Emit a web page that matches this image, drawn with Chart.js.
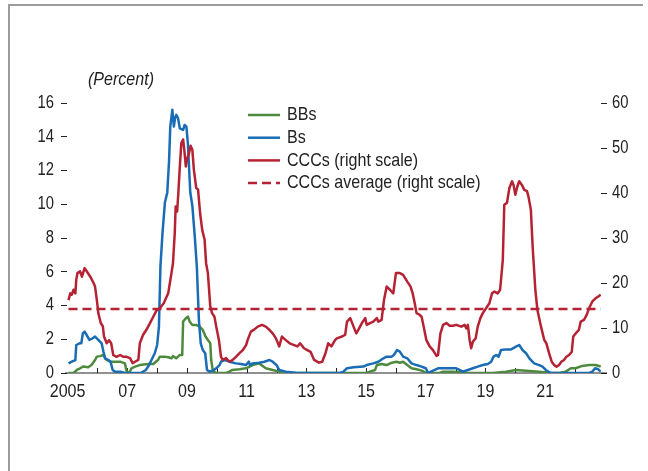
<!DOCTYPE html>
<html>
<head>
<meta charset="utf-8">
<script src="https://cdn.jsdelivr.net/npm/chart.js@4.4.1/dist/chart.umd.min.js"></script>
<style>
  html, body { margin: 0; padding: 0; background: #fff; }
  #wrap { position: relative; width: 648px; height: 471px; overflow: hidden; }
  #frame { position: absolute; left: 8px; top: 4px; right: 5px; bottom: 0; border-top: 2px solid #9c9c9c; border-left: 2px solid #9c9c9c; pointer-events: none; }
</style>
</head>
<body>
<div id="wrap">
  <canvas id="chart-defaults" width="648" height="471"></canvas>
  <div id="frame"></div>
</div>
<script>
// decimal years
const bbDates = [2005.03, 2005.20, 2005.31, 2005.42, 2005.52, 2005.69, 2005.80, 2005.92, 2005.98, 2006.09, 2006.20, 2006.26, 2006.31, 2006.42, 2006.76, 2006.92, 2006.98, 2007.07, 2007.14, 2007.26, 2007.42, 2007.70, 2007.87, 2008.03, 2008.09, 2008.26, 2008.37, 2008.48, 2008.53, 2008.64, 2008.76, 2008.84, 2008.87, 2008.96, 2009.03, 2009.09, 2009.18, 2009.31, 2009.42, 2009.53, 2009.62, 2009.70, 2009.78, 2009.81, 2009.87, 2009.98, 2010.31, 2010.42, 2010.51, 2010.76, 2010.98, 2011.20, 2011.42, 2011.64, 2011.87, 2012.09, 2012.26, 2015.02, 2015.13, 2015.30, 2015.36, 2015.52, 2015.69, 2015.86, 2016.02, 2016.13, 2016.24, 2016.38, 2016.52, 2016.69, 2016.86, 2017.02, 2017.47, 2017.58, 2017.91, 2018.36, 2019.24, 2019.69, 2020.02, 2020.36, 2020.80, 2021.13, 2021.47, 2021.69, 2021.86, 2022.02, 2022.24, 2022.47, 2022.69, 2022.86];
const bbValues = [0, 0, 0.18, 0.28, 0.38, 0.34, 0.47, 0.77, 0.97, 1.0, 1.07, 0.87, 0.77, 0.67, 0.67, 0.57, 0.08, 0.02, 0.28, 0.38, 0.47, 0.53, 0.53, 0.77, 0.97, 0.97, 0.93, 0.87, 1.0, 0.87, 1.07, 1.07, 3.05, 3.24, 3.34, 3.05, 2.85, 2.85, 2.75, 2.55, 2.16, 1.96, 1.76, 0.77, 0.08, 0, 0, 0.08, 0.18, 0.22, 0.28, 0.47, 0.57, 0.28, 0.18, 0.08, 0, 0, 0.08, 0.18, 0.47, 0.53, 0.47, 0.61, 0.67, 0.61, 0.67, 0.47, 0.28, 0.22, 0.14, 0, 0, 0.08, 0.08, 0.02, 0, 0.08, 0.18, 0.14, 0.08, 0.02, 0, 0.08, 0.28, 0.28, 0.42, 0.47, 0.47, 0.38];

const bDates = [2005.03, 2005.14, 2005.26, 2005.29, 2005.40, 2005.46, 2005.51, 2005.57, 2005.64, 2005.73, 2005.84, 2005.92, 2006.03, 2006.14, 2006.20, 2006.26, 2006.37, 2006.44, 2006.51, 2006.59, 2006.76, 2006.92, 2007.31, 2007.48, 2007.62, 2007.70, 2007.81, 2007.92, 2008.00, 2008.06, 2008.11, 2008.18, 2008.26, 2008.34, 2008.40, 2008.44, 2008.51, 2008.56, 2008.60, 2008.64, 2008.70, 2008.76, 2008.87, 2008.92, 2008.98, 2009.03, 2009.11, 2009.18, 2009.26, 2009.33, 2009.40, 2009.46, 2009.53, 2009.61, 2009.67, 2009.76, 2009.87, 2009.98, 2010.09, 2010.14, 2010.26, 2010.42, 2010.64, 2010.81, 2010.98, 2011.07, 2011.11, 2011.20, 2011.42, 2011.59, 2011.76, 2011.87, 2012.00, 2012.09, 2012.31, 2012.64, 2012.98, 2014.13, 2014.24, 2014.36, 2014.58, 2014.91, 2015.02, 2015.24, 2015.41, 2015.58, 2015.69, 2015.86, 2015.93, 2016.04, 2016.13, 2016.24, 2016.38, 2016.52, 2016.69, 2016.86, 2017.00, 2017.08, 2017.17, 2017.30, 2017.41, 2018.02, 2018.13, 2018.24, 2018.41, 2018.58, 2018.74, 2018.91, 2019.08, 2019.19, 2019.27, 2019.36, 2019.44, 2019.52, 2019.69, 2019.86, 2020.02, 2020.13, 2020.24, 2020.36, 2020.47, 2020.63, 2020.80, 2020.91, 2021.02, 2021.19, 2022.47, 2022.58, 2022.67, 2022.78, 2022.86];
const bValues = [0.57, 0.67, 0.77, 1.66, 1.76, 1.76, 2.35, 2.45, 2.25, 1.96, 2.06, 2.16, 1.96, 1.76, 1.27, 0.87, 0.77, 0.67, 0.18, 0.08, 0.08, 0, 0, 0.02, 0.18, 0.38, 0.77, 1.17, 1.66, 2.75, 6.3, 8.3, 10.1, 10.7, 12.6, 14.6, 15.6, 14.6, 15.1, 15.3, 15.1, 14.5, 14.4, 14.7, 14.6, 13.6, 10.7, 9.9, 8.1, 6.3, 3.1, 1.76, 1.36, 1.17, 0.18, 0.08, 0.14, 0.28, 0.47, 0.67, 0.77, 0.67, 0.57, 0.53, 0.47, 0.67, 0.47, 0.57, 0.61, 0.67, 0.77, 0.67, 0.47, 0.18, 0.08, 0.02, 0, 0, 0.08, 0.28, 0.34, 0.38, 0.47, 0.57, 0.67, 0.87, 0.97, 0.97, 1.07, 1.36, 1.27, 0.97, 0.87, 0.57, 0.47, 0.38, 0.28, 0, 0.08, 0.18, 0.28, 0.28, 0.18, 0.08, 0.18, 0.28, 0.38, 0.47, 0.53, 0.67, 0.97, 1.07, 0.97, 1.36, 1.40, 1.40, 1.56, 1.66, 1.36, 1.17, 0.87, 0.57, 0.47, 0.38, 0.18, 0, 0, 0.08, 0.28, 0.22, 0.08];

const cccDates = [2005.03, 2005.09, 2005.14, 2005.20, 2005.26, 2005.29, 2005.33, 2005.42, 2005.48, 2005.57, 2005.64, 2005.76, 2005.87, 2005.92, 2005.98, 2006.03, 2006.11, 2006.18, 2006.22, 2006.31, 2006.39, 2006.46, 2006.53, 2006.64, 2006.76, 2006.87, 2006.98, 2007.09, 2007.18, 2007.26, 2007.37, 2007.42, 2007.53, 2007.64, 2007.76, 2007.87, 2007.98, 2008.09, 2008.22, 2008.37, 2008.48, 2008.53, 2008.59, 2008.62, 2008.67, 2008.71, 2008.76, 2008.81, 2008.87, 2008.92, 2008.96, 2009.00, 2009.07, 2009.12, 2009.18, 2009.23, 2009.31, 2009.37, 2009.44, 2009.51, 2009.59, 2009.64, 2009.70, 2009.78, 2009.84, 2009.92, 2009.98, 2010.07, 2010.14, 2010.20, 2010.31, 2010.42, 2010.53, 2010.64, 2010.76, 2010.87, 2010.98, 2011.03, 2011.14, 2011.26, 2011.37, 2011.51, 2011.64, 2011.76, 2011.87, 2011.98, 2012.09, 2012.18, 2012.31, 2012.44, 2012.59, 2012.70, 2012.79, 2012.92, 2013.03, 2013.14, 2013.26, 2013.42, 2013.53, 2013.64, 2013.73, 2013.84, 2013.96, 2014.02, 2014.19, 2014.30, 2014.36, 2014.47, 2014.58, 2014.67, 2014.74, 2014.86, 2014.97, 2015.02, 2015.13, 2015.24, 2015.36, 2015.41, 2015.52, 2015.60, 2015.69, 2015.80, 2015.91, 2016.00, 2016.13, 2016.24, 2016.38, 2016.49, 2016.56, 2016.63, 2016.69, 2016.78, 2016.86, 2016.93, 2017.02, 2017.13, 2017.24, 2017.36, 2017.41, 2017.49, 2017.58, 2017.69, 2017.80, 2017.91, 2018.02, 2018.19, 2018.30, 2018.36, 2018.41, 2018.47, 2018.52, 2018.58, 2018.67, 2018.74, 2018.83, 2018.91, 2019.02, 2019.13, 2019.22, 2019.30, 2019.41, 2019.49, 2019.58, 2019.63, 2019.72, 2019.80, 2019.89, 2019.94, 2020.00, 2020.07, 2020.13, 2020.22, 2020.30, 2020.39, 2020.44, 2020.52, 2020.58, 2020.67, 2020.74, 2020.86, 2020.97, 2021.04, 2021.13, 2021.22, 2021.30, 2021.38, 2021.47, 2021.54, 2021.63, 2021.71, 2021.80, 2021.89, 2021.94, 2022.02, 2022.13, 2022.19, 2022.30, 2022.39, 2022.47, 2022.58, 2022.69, 2022.78, 2022.86];
const cccValues = [16.2, 17.7, 17.4, 18.5, 17.7, 20.7, 22.2, 22.6, 21.4, 23.3, 22.6, 21.4, 20.0, 19.2, 16.2, 13.3, 11.1, 10.4, 8.1, 6.6, 7.3, 6.6, 4.0, 3.6, 4.0, 3.6, 3.6, 3.3, 2.2, 2.5, 2.9, 6.6, 8.5, 9.6, 11.1, 12.5, 13.9, 14.4, 15.5, 17.7, 22.2, 24.4, 31.1, 37.0, 35.9, 40.0, 45.9, 51.1, 51.9, 48.9, 45.9, 47.4, 48.9, 50.5, 49.6, 45.2, 41.1, 40.8, 35.5, 31.8, 29.6, 24.4, 22.2, 14.8, 13.3, 12.5, 10.3, 7.3, 3.6, 2.9, 3.3, 2.5, 2.9, 3.6, 4.4, 5.1, 6.2, 7.3, 9.2, 9.7, 10.3, 10.7, 10.3, 9.6, 8.8, 7.7, 5.9, 8.1, 7.3, 6.6, 6.2, 5.9, 6.6, 5.5, 5.1, 4.7, 2.9, 2.3, 2.5, 4.4, 6.6, 5.9, 7.3, 7.7, 8.1, 8.5, 11.4, 12.2, 10.3, 8.8, 9.6, 11.1, 12.2, 10.7, 11.1, 11.4, 12.2, 11.4, 11.8, 16.2, 19.2, 18.5, 17.7, 22.2, 22.2, 21.8, 20.3, 19.2, 17.7, 15.5, 13.3, 13.0, 12.5, 10.3, 7.3, 5.9, 5.1, 3.8, 4.0, 8.8, 10.7, 11.1, 10.5, 10.5, 10.7, 10.3, 10.7, 9.9, 10.7, 7.3, 5.5, 7.0, 7.7, 10.3, 12.2, 13.3, 14.4, 15.5, 17.7, 18.1, 17.7, 18.5, 25.1, 37.4, 37.8, 41.1, 42.6, 41.8, 39.6, 41.5, 42.6, 41.8, 40.7, 40.4, 39.2, 36.3, 28.1, 18.5, 14.0, 10.3, 7.3, 6.6, 4.4, 2.5, 1.8, 1.4, 1.8, 2.5, 2.9, 3.6, 4.0, 4.7, 8.1, 8.8, 9.6, 11.4, 11.8, 12.9, 14.4, 15.9, 16.6, 17.0, 17.4];

const cccAverage = 14.2;
const avgDates = [2005.03, 2022.86];

const yearTicks = [2005, 2006, 2007, 2008, 2009, 2010, 2011, 2012, 2013, 2014, 2015, 2016, 2017, 2018, 2019, 2020, 2021, 2022];
const yearLabels = ["2005", "", "07", "", "09", "", "11", "", "13", "", "15", "", "17", "", "19", "", "21", ""];

const GREEN = "#4e8a3e";
const BLUE = "#1a6db5";
const RED = "#b52233";
const INK = "#222";
const SANS = '"Liberation Sans", Arial, sans-serif';
const SQUEEZE = 0.845; // the source face is a condensed grotesque

const toPts = (xs, ys) => xs.map((x, i) => ({ x, y: ys[i] }));

const legendItems = [
  { text: "BBs", color: GREEN, dash: [] },
  { text: "Bs", color: BLUE, dash: [] },
  { text: "CCCs (right scale)", color: RED, dash: [] },
  { text: "CCCs average (right scale)", color: RED, dash: [9, 5] }
];

function narrowText(ctx, text, x, y, align) {
  ctx.save();
  ctx.translate(x, y);
  ctx.scale(SQUEEZE, 1);
  ctx.textAlign = align || "left";
  ctx.fillText(text, 0, 0);
  ctx.restore();
}

const decor = {
  id: "decor",
  beforeDatasetsDraw(chart) {
    const { ctx, chartArea, scales } = chart;
    ctx.save();
    ctx.strokeStyle = INK;
    ctx.lineWidth = 1.2;
    ctx.beginPath();
    ctx.moveTo(chartArea.left - 2, chartArea.bottom);
    ctx.lineTo(chartArea.right + 6, chartArea.bottom);
    ctx.stroke();
    // year ticks point up into the plot
    ctx.lineWidth = 1;
    yearTicks.slice(1).forEach(yr => {
      const px = Math.round(scales.x.getPixelForValue(yr)) + 0.5;
      ctx.beginPath();
      ctx.moveTo(px, chartArea.bottom);
      ctx.lineTo(px, chartArea.bottom - 5);
      ctx.stroke();
    });
    ctx.restore();
  },
  afterDraw(chart) {
    const { ctx, chartArea, scales } = chart;
    ctx.save();
    ctx.fillStyle = INK;
    ctx.textBaseline = "middle";

    // tick labels, placed from the scales
    ctx.font = "17.5px " + SANS;
    scales.y.ticks.forEach(t => {
      narrowText(ctx, String(t.value), chartArea.left - 13, scales.y.getPixelForValue(t.value), "right");
    });
    scales.y1.ticks.forEach(t => {
      narrowText(ctx, String(t.value), chartArea.right + 11, scales.y1.getPixelForValue(t.value), "left");
    });
    ctx.font = "19px " + SANS;
    yearTicks.forEach((yr, i) => {
      if (yearLabels[i]) narrowText(ctx, yearLabels[i], scales.x.getPixelForValue(yr), chartArea.bottom + 19, "center");
    });

    ctx.font = "italic 19px " + SANS;
    narrowText(ctx, "(Percent)", 88, 80);

    ctx.font = "19px " + SANS;
    legendItems.forEach((it, i) => {
      const y = 115 + i * 22.7;
      ctx.strokeStyle = it.color;
      ctx.lineWidth = 2.5;
      ctx.setLineDash(it.dash);
      ctx.beginPath();
      ctx.moveTo(248, y);
      ctx.lineTo(280, y);
      ctx.stroke();
      ctx.setLineDash([]);
      narrowText(ctx, it.text, 287, y);
    });
    ctx.restore();
  }
};

new Chart(document.getElementById("chart-defaults").getContext("2d"), {
  type: "line",
  data: {
    datasets: [
      { label: "CCCs average (right scale)", data: toPts(avgDates, avgDates.map(() => cccAverage)), yAxisID: "y1", borderColor: RED, borderDash: [9, 5], order: 0 },
      { label: "CCCs (right scale)", data: toPts(cccDates, cccValues), yAxisID: "y1", borderColor: RED, order: 1 },
      { label: "Bs", data: toPts(bDates, bValues), yAxisID: "y", borderColor: BLUE, order: 2 },
      { label: "BBs", data: toPts(bbDates, bbValues), yAxisID: "y", borderColor: GREEN, order: 3 }
    ]
  },
  options: {
    responsive: false,
    animation: false,
    devicePixelRatio: 1,
    layout: { padding: { top: 103, left: 0, right: 0, bottom: 0 } },
    elements: {
      point: { radius: 0 },
      line: { tension: 0, borderWidth: 2.5, fill: false, borderJoinStyle: "round" }
    },
    plugins: { legend: { display: false }, tooltip: { enabled: false } },
    scales: {
      x: {
        type: "linear",
        min: 2004.98,
        max: 2022.87,
        afterBuildTicks: s => { s.ticks = yearTicks.map(v => ({ value: v })); },
        afterFit: s => { s.height = 471 - 373; },
        grid: { display: false, drawTicks: false },
        border: { display: false },
        ticks: { display: false }
      },
      y: {
        position: "left",
        min: 0, max: 16,
        afterFit: s => { s.width = 67; },
        grid: { drawOnChartArea: false, drawTicks: true, tickLength: 6, color: INK, lineWidth: 1 },
        border: { display: false },
        ticks: { stepSize: 2, display: false }
      },
      y1: {
        position: "right",
        min: 0, max: 60,
        afterFit: s => { s.width = 648 - 601; },
        grid: { drawOnChartArea: false, drawTicks: true, tickLength: 6, color: INK, lineWidth: 1 },
        border: { display: false },
        ticks: { stepSize: 10, display: false }
      }
    }
  },
  plugins: [decor]
});
</script>
</body>
</html>
